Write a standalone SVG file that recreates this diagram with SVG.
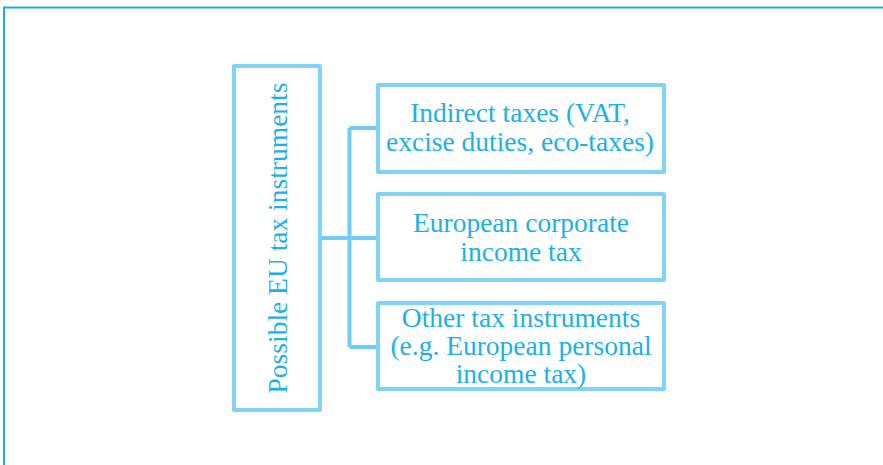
<svg xmlns="http://www.w3.org/2000/svg" width="883" height="465" viewBox="0 0 883 465">
<style>
.box{fill:#ffffff;stroke:#7fd3f6;stroke-width:4;stroke-linejoin:round}
.conn{fill:none;stroke:#6fcdf5;stroke-width:4}
.t{font-family:"Liberation Serif","Times New Roman",serif;font-size:27.5px;fill:#1ab1ea;text-anchor:middle}
</style>
<rect x="0" y="0" width="883" height="465" fill="#ffffff"/>
<path d="M4,465 V7.5 H883" fill="none" stroke="#20a9de" stroke-width="2"/>
<g id="connectors">
<path class="conn" d="M320,238 H349.5 M349.5,128 V347 M349.5,128 H378 M349.5,238 H378 M349.5,347 H378"/>
</g>
<g id="root">
<rect class="box" x="234" y="66" width="86" height="344"/>
<text class="t" transform="translate(287,238) rotate(-90)">Possible EU tax instruments</text>
</g>
<g id="indirect">
<rect class="box" x="378" y="85" width="286" height="87"/>
<text class="t"><tspan x="520" y="122">Indirect taxes (VAT,</tspan><tspan x="520" y="151">excise duties, eco-taxes)</tspan></text>
</g>
<g id="corporate">
<rect class="box" x="378" y="194" width="286" height="86"/>
<text class="t"><tspan x="521" y="232">European corporate</tspan><tspan x="521" y="261">income tax</tspan></text>
</g>
<g id="other">
<rect class="box" x="378" y="303" width="286" height="86"/>
<text class="t"><tspan x="521" y="327">Other tax instruments</tspan><tspan x="521" y="355">(e.g. European personal</tspan><tspan x="521" y="383">income tax)</tspan></text>
</g>
</svg>
